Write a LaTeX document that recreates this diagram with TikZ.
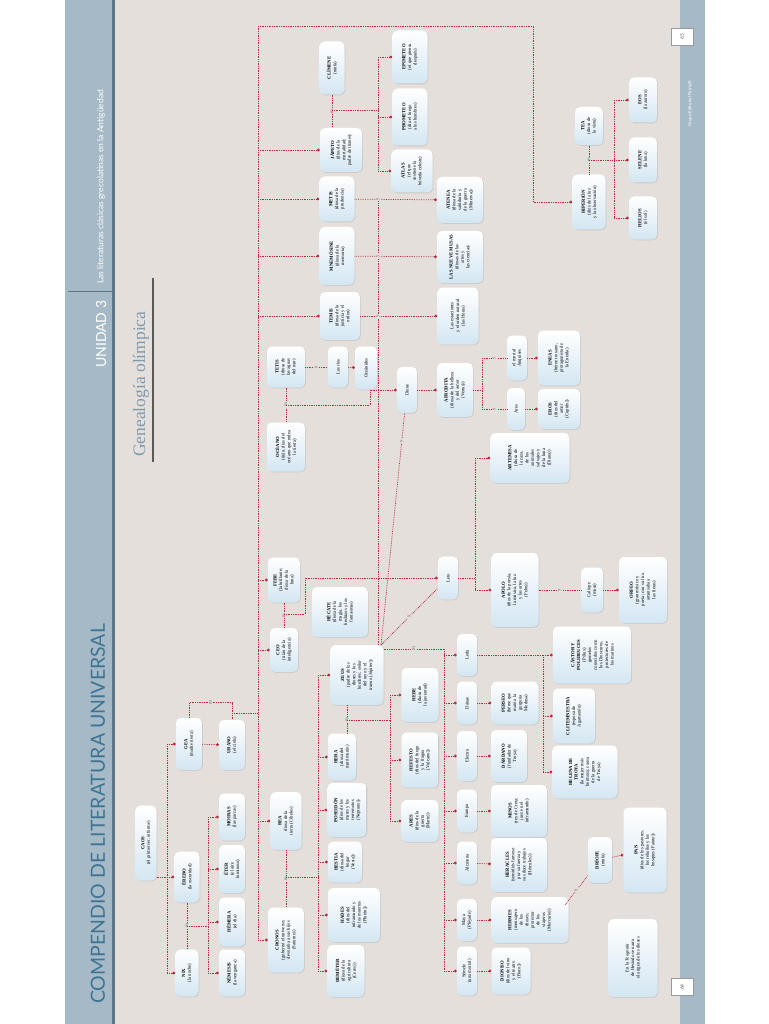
\documentclass[tikz,border=0pt]{standalone}
\usepackage{fontspec}
\setmainfont{Liberation Serif}
\setsansfont{Lato}
\usetikzlibrary{arrows.meta,positioning,calc,shadows}
\definecolor{pagebg}{HTML}{E5DFDB}
\definecolor{band}{HTML}{A5BAC6}
\definecolor{bandline}{HTML}{5E7585}
\definecolor{titleblue}{HTML}{3F7393}
\definecolor{subblue}{HTML}{7F99AD}
\definecolor{linkred}{HTML}{B52A3A}
\definecolor{boxblue}{HTML}{D3E6F2}
\newcommand{\ent}[2]{\textbf{#1}\\#2}

\begin{document}
\begin{tikzpicture}[x=1pt,y=-1pt,
    box/.style={rotate=90, rounded corners=5pt, top color=white, bottom color=boxblue,
        drop shadow={opacity=.22, shadow xshift=.8pt, shadow yshift=-.8pt},
        align=center, inner sep=1.5pt, font=\fontsize{4.7}{5.6}\selectfont},
    conn/.style={draw=linkred, densely dotted, line width=.75pt},
    dot/.style={conn, -{Circle[length=2.8pt]}},
    lab/.style={rotate=90, fill=pagebg, inner sep=.7pt, font=\fontsize{4.8}{4.8}\selectfont, text=black!65}
]
\useasboundingbox (0,0) rectangle (768,1024);
% page
\fill[white] (0,0) rectangle (768,1024);
\fill[pagebg] (65,0) rectangle (705,1024);
\fill[band] (65,0) rectangle (115,1024);
\fill[bandline] (112,0) rectangle (114.5,1024);
\fill[band] (680,0) rectangle (705,1024);

\node[rotate=90, anchor=west, inner sep=0, text=titleblue, font=\sffamily\fontsize{19.5}{19.5}\selectfont] (ttl) at (98,1004) {COMPENDIO DE LITERATURA UNIVERSAL};
\node[rotate=90, anchor=west, inner sep=0, text=white, font=\sffamily\fontsize{14}{14}\selectfont] (unid) at (101,368) {UNIDAD 3};
\draw[bandline, line width=1pt] (68,291) -- (112,291);
\node[rotate=90, anchor=west, inner sep=0, text=white, font=\sffamily\fontsize{8.5}{8.5}\selectfont] (unit) at (101,284) {Las literaturas clásicas grecolatinas en la Antigüedad};
\node[rotate=90, anchor=west, inner sep=0, text=white, font=\sffamily\fontsize{4.5}{4.5}\selectfont] (edit) at (690,127) {Grupo Editorial Patria®};
\node[fill=white, draw=black!40, minimum width=17, minimum height=22, inner sep=0, rotate=90, font=\sffamily\fontsize{5}{5}\selectfont, text=black!60] (p65) at (682,37) {65};
\node[fill=white, draw=black!40, minimum width=17, minimum height=22, inner sep=0, rotate=90, font=\sffamily\fontsize{5}{5}\selectfont, text=black!60] (p64) at (682,987) {64};

\node[rotate=90, anchor=west, inner sep=0, text=subblue, font=\fontsize{17.5}{17.5}\selectfont] (gen) at (141,457) {Genealogía olímpica};
\draw[black!65, line width=1.4pt] (153,278) -- (153,462);

% caos, nix y erebo
\node[box, minimum width=75, minimum height=21] (caos) at (146,843) {\ent{CAOS}{(el primer ser, informe)}};
\node[box, minimum width=51, minimum height=25] (erebo) at (187,877) {\ent{ÉREBO}{(la oscuridad)}};
\node[box, minimum width=47, minimum height=23] (nix) at (187,973) {\ent{NIX}{(la noche)}};
\node[box, minimum width=52, minimum height=26] (gea) at (189,744) {\ent{GEA}{(madre tierra)}};
\node[box, minimum width=50, minimum height=26] (urano) at (232,745) {\ent{URANO}{(el cielo)}};
\node[box, minimum width=47, minimum height=26] (moiras) at (232,817) {\ent{MOIRAS}{(las parcas)}};
\node[box, minimum width=48, minimum height=26] (eter) at (232,869) {\ent{ÉTER}{(el aire\\luminoso)}};
\node[box, minimum width=49, minimum height=26] (hemera) at (232,922) {\ent{HÉMERA}{(el día)}};
\node[box, minimum width=47, minimum height=26] (nemesis) at (232,973) {\ent{NÉMESIS}{(la venganza)}};

% titanes
\node[box, minimum width=58, minimum height=31] (rea) at (286,821) {\ent{REA}{diosa de la\\tierra (Cibeles)}};
\node[box, minimum width=65, minimum height=36] (crono) at (286,940) {\ent{CRONOS}{(gobernó el universo;\\devoraba a sus hijos\\(Saturno))}};
\node[box, minimum width=45, minimum height=32] (febe) at (284,580) {\ent{FEBE}{(la brillante;\\diosa de la\\luna)}};
\node[box, minimum width=44, minimum height=28] (ceo) at (284,650) {\ent{CEO}{(titán de la\\inteligencia)}};
\node[box, minimum width=49, minimum height=38] (oceano) at (286,447) {\ent{OCÉANO}{(titán, dios del\\océano que rodea\\la tierra)}};
\node[box, minimum width=41, minimum height=38] (tetis) at (286,367) {\ent{TETIS}{(diosa de\\las aguas\\del mar)}};
\node[box, minimum width=48, minimum height=40] (temis) at (340,316) {\ent{TEMIS}{(diosa de la\\justicia y el\\orden)}};
\node[box, minimum width=58, minimum height=35] (mnemosine) at (337,256) {\ent{MNEMÓSINE}{(diosa de la\\memoria)}};
\node[box, minimum width=45, minimum height=35] (metis) at (337,199) {\ent{METIS}{(diosa de la\\prudencia)}};
\node[box, minimum width=44, minimum height=42] (japeto) at (341,150) {\ent{JÁPETO}{(dios de la\\mortalidad;\\padre de titanes)}};
\node[box, minimum width=53, minimum height=25] (climene) at (332,68) {\ent{CLÍMENE}{(ninfa)}};
\node[box, minimum width=53, minimum height=35] (epimeteo) at (410,57) {\ent{EPIMETEO}{(el que piensa\\después)}};
\node[box, minimum width=57, minimum height=35] (prometeo) at (410,117) {\ent{PROMETEO}{(dio el fuego\\a los hombres)}};
\node[box, minimum width=43, minimum height=41] (atlas) at (412,171) {\ent{ATLAS}{(el que\\sostiene la\\bóveda celeste)}};
\node[box, minimum width=46, minimum height=46] (atenea) at (460,200) {\ent{ATENEA}{(diosa de la\\sabiduría y\\de la guerra\\(Minerva))}};
\node[box, minimum width=52, minimum height=46] (musas) at (460,257) {\ent{LAS NUEVE MUSAS}{(diosas de las\\artes y\\las ciencias)}};
\node[box, minimum width=57, minimum height=41] (horas) at (458,316) {Las estaciones\\y el orden natural\\(las Horas)};
\node[box, minimum width=41, minimum height=20] (rios) at (338,367) {Los ríos};
\node[box, minimum width=43, minimum height=22] (oceanides) at (366,368) {Oceánides};
\node[box, minimum width=46, minimum height=20] (dione) at (407,390) {Dione};
\node[box, minimum width=54, minimum height=36] (afrodita) at (455,390) {\ent{AFRODITA}{(diosa de la belleza\\y del amor\\(Venus))}};
\node[box, minimum width=45, minimum height=20] (anquises) at (517,358) {el mortal\\Anquises};
\node[box, minimum width=42, minimum height=18] (ares2) at (516,409) {Ares};
\node[box, minimum width=55, minimum height=42] (eneas) at (559,358) {\ent{ENEAS}{(héroe troyano,\\protagonista de\\la Eneida)}};
\node[box, minimum width=40, minimum height=42] (eros) at (559,409) {\ent{EROS}{(dios del\\amor\\(Cupido))}};
\node[box, minimum width=50, minimum height=79] (artemisa) at (530,458) {\ent{ARTEMISA}{(diosa de\\la caza,\\de los\\animales\\salvajes y\\de la luna\\(Diana))}};
\node[box, minimum width=55, minimum height=33] (hiperion) at (589,202) {\ent{HIPERIÓN}{(dios de la luz\\y la observación)}};
\node[box, minimum width=38, minimum height=28] (tea) at (589,126) {\ent{TEA}{(diosa de\\la vista)}};
\node[box, minimum width=45, minimum height=28] (eos) at (643,100) {\ent{EOS}{(la aurora)}};
\node[box, minimum width=45, minimum height=28] (selene) at (643,160) {\ent{SELENE}{(la luna)}};
\node[box, minimum width=43, minimum height=28] (helios) at (643,218) {\ent{HELIOS}{(el sol)}};
\node[box, minimum width=43, minimum height=20] (leto) at (448,578) {Leto};
\node[box, minimum width=50, minimum height=56] (hecate) at (340,612) {\ent{HÉCATE}{(diosa de la\\magia, los\\hechizos y los\\fantasmas)}};

% olimpicos
\node[box, minimum width=60, minimum height=53] (zeus) at (357,675) {\ent{ZEUS}{(padre de los\\dioses y los\\hombres; señor\\del rayo y el\\trueno (Júpiter))}};
\node[box, minimum width=47, minimum height=28] (hera) at (342,757) {\ent{HERA}{(diosa del\\matrimonio)}};
\node[box, minimum width=54, minimum height=39] (poseidon) at (347,810) {\ent{POSEIDÓN}{(dios de los\\mares y los\\terremotos\\(Neptuno))}};
\node[box, minimum width=41, minimum height=34] (hestia) at (345,862) {\ent{HESTIA}{(diosa del\\hogar\\(Vesta))}};
\node[box, minimum width=54, minimum height=52] (hades) at (354,915) {\ent{HADES}{(dios del\\inframundo y\\de los muertos\\(Plutón))}};
\node[box, minimum width=52, minimum height=37] (demeter) at (346,971) {\ent{DEMÉTER}{(diosa de la\\agricultura\\(Ceres))}};
\node[box, minimum width=54, minimum height=37] (hebe) at (420,695) {\ent{HEBE}{(diosa de\\la juventud)}};
\node[box, minimum width=55, minimum height=37] (hefesto) at (420,760) {\ent{HEFESTO}{(dios del fuego\\y la fragua\\(Vulcano))}};
\node[box, minimum width=42, minimum height=37] (ares) at (420,821) {\ent{ARES}{(dios de la\\guerra\\(Marte))}};
\node[box, minimum width=42, minimum height=20] (leda) at (467,655) {Leda};
\node[box, minimum width=43, minimum height=20] (danae) at (467,703) {Dánae};
\node[box, minimum width=50, minimum height=20] (electra) at (467,756) {Electra};
\node[box, minimum width=43, minimum height=20] (europa) at (467,811) {Europa};
\node[box, minimum width=43, minimum height=20] (alcmena) at (467,863) {Alcmena};
\node[box, minimum width=42, minimum height=20] (maya) at (467,920) {Maya\\(Pléyade)};
\node[box, minimum width=49, minimum height=20] (semele) at (467,971) {Sémele\\(una mortal)};
\node[box, minimum width=74, minimum height=47] (apolo) at (515,590) {\ent{APOLO}{(dios de la poesía,\\la música, la luz\\y las artes\\(Febo))}};
\node[box, minimum width=43, minimum height=47] (perseo) at (515,703) {\ent{PERSEO}{(héroe que\\mató a la\\gorgona\\Medusa)}};
\node[box, minimum width=52, minimum height=36] (dardano) at (509,756) {\ent{DÁRDANO}{(fundador de\\Troya)}};
\node[box, minimum width=52, minimum height=56] (minos) at (519,811) {\ent{MINOS}{(rey de Creta;\\juez en el\\inframundo)}};
\node[box, minimum width=54, minimum height=56] (heracles) at (519,865) {\ent{HERACLES}{(semidiós famoso\\por su fuerza y\\sus doce trabajos\\(Hércules))}};
\node[box, minimum width=46, minimum height=77] (hermes) at (530,920) {\ent{HERMES}{(mensajero\\de los\\dioses;\\protector\\de los\\viajeros\\(Mercurio))}};
\node[box, minimum width=47, minimum height=39] (dioniso) at (511,971) {\ent{DIONISO}{(dios del vino\\y el teatro\\(Baco))}};
\node[box, minimum width=57, minimum height=78] (castor) at (592,655) {\textbf{CÁSTOR Y}\\\textbf{POLIDEUCES}\\(Pólux)\\gemelos\\conocidos como\\los Dioscuros,\\protectores de\\los marinos};
\node[box, minimum width=55, minimum height=42] (clitemnestra) at (574,716) {\ent{CLITEMNESTRA}{(esposa de\\Agamenón)}};
\node[box, minimum width=53, minimum height=65] (helena) at (585,772) {\textbf{HELENA DE}\\\textbf{TROYA}\\(la mujer más\\hermosa; causa\\de la guerra\\de Troya)};
\node[box, minimum width=45, minimum height=22] (caliope) at (592,590) {Calíope\\(musa)};
\node[box, minimum width=66, minimum height=48] (orfeo) at (643,590) {\ent{ORFEO}{(gran músico y\\poeta; con su lira\\amansaba a\\las fieras)}};
\node[box, minimum width=46, minimum height=24] (driope) at (600,860) {\ent{DRÍOPE}{(ninfa)}};
\node[box, minimum width=85, minimum height=43] (pan) at (645,850) {\ent{PAN}{(dios de los pastores,\\los rebaños y los\\bosques (Fauno))}};
\node[box, minimum width=78, minimum height=49] (nota) at (633,958) {En la \textit{Teogonía}\\de Hesíodo se narra\\el origen de los dioses};

% troncos
\coordinate (cT) at (167,0);
\coordinate (nT) at (208,0);
\coordinate (uT) at (258,0);
\coordinate (kT) at (318,0);
\coordinate (jT) at (378,0);
\coordinate (zT) at (390,0);
\coordinate (mT) at (444,0);
\coordinate (lT) at (475,0);
\coordinate (aT) at (482,0);
\coordinate (dT) at (543,0);
\coordinate (hT) at (614,0);

% Caos
\draw[dot] (caos.south |- erebo) -- (erebo);
\draw[conn] (cT |- gea) -- (cT |- nix);
\draw[dot] (cT |- gea) -- (gea);
\draw[dot] (cT |- nix) -- (nix);
% Erebo y Nix
\draw[conn] (erebo) -- node[lab]{m} (nix);
\coordinate (en) at (187,926);
\draw[conn] (en) -- (nT |- en);
\draw[conn] (nT |- moiras) -- (nT |- nemesis);
\foreach \n in {moiras,eter,hemera,nemesis} \draw[dot] (nT |- \n) -- (\n);
% Gea y Urano
\draw[dot] (gea) -- (urano);
\draw[conn] (gea.east) -- ++(0,-15) -| node[lab,pos=.25]{m} (urano.east);
\coordinate (gu) at (232,713);
\draw[conn] (gu) -- (uT |- gu);
\coordinate (top) at (258,26);
\coordinate (topr) at (533,26);
\draw[conn] (top) -- (uT |- crono);
\draw[dot] (top) -- (topr) |- (hiperion);
\foreach \n in {japeto,metis,mnemosine,temis,febe,ceo,rea,crono} \draw[dot] (uT |- \n) -- (\n);
% Rea y Cronos
\draw[conn] (rea) -- node[lab]{m} (crono);
\coordinate (rc) at (286,877);
\draw[conn] (rc) -- (kT |- rc);
\draw[conn] (kT |- zeus) -- (kT |- demeter);
\foreach \n in {zeus,hera,poseidon,hestia,hades,demeter} \draw[dot] (kT |- \n) -- (\n);
% Febe y Ceo
\draw[conn] (febe) -- node[lab]{m} (ceo);
\coordinate (fc) at (284,614);
\coordinate (fcx) at (305,614);
\draw[dot] (fc) -- (fcx) |- (leto);
% Oceano y Tetis
\draw[conn] (tetis) -- node[lab]{m} (oceano);
\coordinate (ot) at (286,405);
\coordinate (otx) at (370,405);
\draw[dot] (ot) -- (otx) |- (dione);
\draw[conn] (tetis) -- node[lab]{y} (rios);
\draw[dot] (rios) -- (oceanides);
% Japeto y Climene
\draw[conn] (climene) -- node[lab]{m} (climene |- japeto.east);
\coordinate (cj) at (332,110);
\draw[conn] (cj) -- (jT |- cj);
\draw[conn] (jT |- epimeteo) -- (jT |- atlas);
\foreach \n in {epimeteo,prometeo,atlas} \draw[dot] (jT |- \n) -- (\n);
% Zeus
\draw[conn] (jT |- zeus.east) -- (jT |- metis);
\draw[dot] (metis) -- (atenea);
\draw[dot] (mnemosine) -- (musas);
\draw[dot] (temis) -- (horas);
\foreach \n in {metis,mnemosine,temis} \node[lab] at (jT |- \n) {y};
\coordinate (zc) at (381,645);
\draw[conn] (zc) -- node[lab,pos=.88]{y} (dione);
\draw[conn] (zc) -- node[lab]{y} (leto);
\draw[dot] (dione) -- (afrodita);
% Afrodita
\draw[conn] (afrodita) -- (aT |- afrodita);
\draw[conn] (aT |- anquises) -- (aT |- ares2);
\draw[conn] (aT |- anquises) -- node[lab]{y} (anquises);
\draw[conn] (aT |- ares2) -- node[lab]{y} (ares2);
\draw[dot] (anquises) -- (eneas);
\draw[dot] (ares2) -- (eros);
% Leto
\draw[conn] (leto) -- (lT |- leto);
\draw[conn] (lT |- artemisa) -- (lT |- apolo);
\draw[dot] (lT |- artemisa) -- (artemisa);
\draw[dot] (lT |- apolo) -- (apolo);
\draw[conn] (apolo) -- node[lab]{y} (caliope);
\draw[dot] (caliope) -- (orfeo);
% Zeus y Hera
\coordinate (zh) at (347,720);
\draw[conn] (zh |- zeus.west) -- (zh |- hera.east);
\node[lab] at (zh) {m};
\draw[conn] (zh) -- (zT |- zh);
\draw[conn] (zT |- hebe) -- (zT |- ares);
\foreach \n in {hebe,hefesto,ares} \draw[dot] (zT |- \n) -- (\n);
% Zeus y sus amantes
\coordinate (zm) at (383,649);
\draw[conn] (zeus.south |- zm) -- node[lab]{m} (mT |- zm);
\draw[conn] (mT |- zm) -- (mT |- semele);
\foreach \n in {leda,danae,electra,europa,alcmena,maya,semele} \draw[dot] (mT |- \n) -- (\n);
\draw[dot] (danae) -- (perseo);
\draw[dot] (electra) -- (dardano);
\draw[dot] (europa) -- (minos);
\draw[dot] (alcmena) -- (heracles);
\draw[dot] (maya) -- (hermes);
\draw[dot] (semele) -- (dioniso);
\draw[conn] (leda) -- (dT |- leda);
\draw[conn] (dT |- leda) -- (dT |- helena);
\foreach \n in {castor,clitemnestra,helena} \draw[dot] (dT |- \n) -- (\n);
\coordinate (hd) at (565,905);
\draw[conn] (hd) -- node[lab]{y} (driope);
\draw[dot] (driope) -- (pan);
% Hiperion y Tea
\draw[conn] (hiperion) -- node[lab]{m} (tea);
\coordinate (ht) at (589,160);
\draw[conn] (ht) -- (hT |- ht);
\draw[conn] (hT |- eos) -- (hT |- helios);
\foreach \n in {eos,selene,helios} \draw[dot] (hT |- \n) -- (\n);
\end{tikzpicture}
\end{document}
